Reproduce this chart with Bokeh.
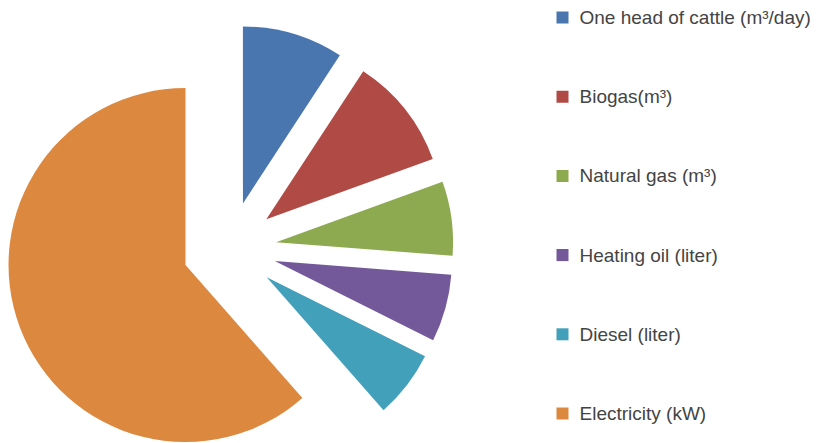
import math
from bokeh.plotting import figure
from bokeh.models import ColumnDataSource, Range1d
from bokeh.core.properties import value
from bokeh.embed import file_html
from bokeh.resources import INLINE

labels = ["One head of cattle (m\u00b3/day)", "Biogas(m\u00b3)", "Natural gas (m\u00b3)",
          "Heating oil (liter)", "Diesel (liter)", "Electricity (kW)"]
values = [0.9, 1.0, 0.66, 0.6, 0.6, 6.0]
colors = ["#4A76B0", "#B04A45", "#8DAA50", "#74599A", "#43A0BA", "#DD883F"]

W, H = 822, 443
cx, cy = 229, -248
radius = 177
explode = 47

total = sum(values)
xs, ys, starts, ends = [], [], [], []
acc = 0.0
for v in values:
    a0 = acc / total * 2 * math.pi
    acc += v
    a1 = acc / total * 2 * math.pi
    mid = (a0 + a1) / 2
    xs.append(cx + explode * math.sin(mid))
    ys.append(cy + explode * math.cos(mid))
    starts.append(math.pi / 2 - a0)
    ends.append(math.pi / 2 - a1)

src = ColumnDataSource(dict(x=xs, y=ys, s=starts, e=ends, c=colors))

p = figure(width=W, height=H, output_backend="svg", toolbar_location=None,
           x_range=Range1d(0, W), y_range=Range1d(-H, 0), min_border=0)
p.axis.visible = False
p.grid.visible = False
p.outline_line_color = None
p.background_fill_color = "white"
p.border_fill_color = "white"

p.wedge(x="x", y="y", radius=radius, start_angle="s", end_angle="e",
        direction="clock", fill_color="c", line_color=None, source=src)

ly = [-(17 + i * 79.2) for i in range(len(labels))]
lsrc = ColumnDataSource(dict(x=[562] * len(labels), tx=[579] * len(labels), y=ly, c=colors, t=labels))
p.scatter(x="x", y="y", marker="square", size=12, fill_color="c", line_color=None, source=lsrc)
p.text(x="tx", y="y", text="t", source=lsrc, text_font=value("Liberation Sans"),
       text_font_size="19px", text_color="#444444", text_baseline="middle", text_align="left")

open("out.html", "w").write(file_html(p, INLINE))
